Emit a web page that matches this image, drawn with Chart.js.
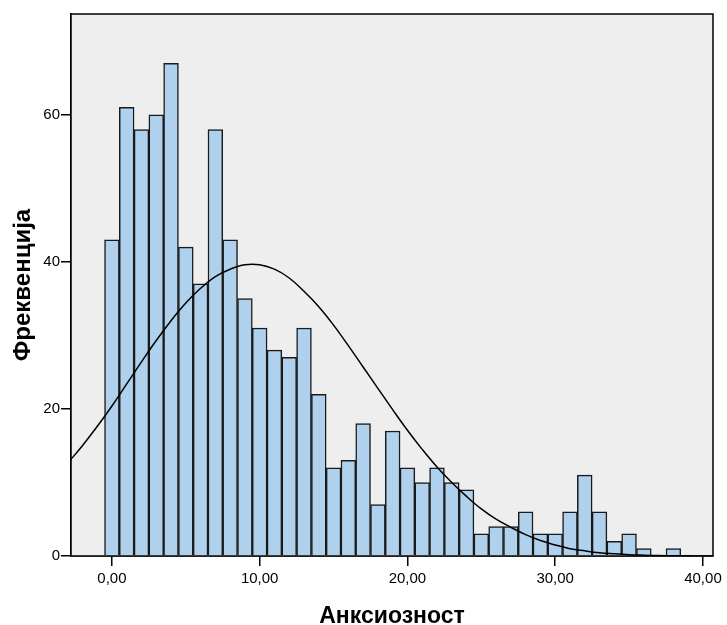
<!DOCTYPE html>
<html>
<head>
<meta charset="utf-8">
<script src="https://cdn.jsdelivr.net/npm/chart.js@4.4.1/dist/chart.umd.min.js"></script>
<style>
  body { margin: 0; background: #fff; }
</style>
</head>
<body>
<canvas id="hist" width="727" height="625"></canvas>
<script>
// histogram bins (centres) and counts
const binCenters = [0,1,2,3,4,5,6,7,8,9,10,11,12,13,14,15,16,17,18,19,20,21,22,23,24,25,26,27,28,29,30,31,32,33,34,35,36,37,38];
const frequencies = [43,61,58,60,67,42,37,58,43,35,31,28,27,31,22,12,13,18,7,17,12,10,12,10,9,3,4,4,6,3,3,6,11,6,2,3,1,0,1];

// normal curve
const curveX = [-3,-2,-1,0,1,2,3,4,5,6,7,8,9,10,11,12,13,14,15,16,17,18,19,20,21,22,23,24,25,26,27,28,29,30,31,32,33,34,35,36,37,38,39,40,41];
const curveY = [12.6,15.0,17.6,20.4,23.4,26.4,29.3,32.0,34.4,36.4,38.0,39.0,39.6,39.6,39.0,37.8,36.0,33.9,31.4,28.6,25.7,22.8,19.9,17.1,14.5,12.1,10.0,8.1,6.4,5.0,3.9,2.9,2.1,1.5,1.0,0.7,0.45,0.3,0.18,0.11,0.06,0.04,0.02,0.01,0.01];

const xTicks = [0, 10, 20, 30, 40];
const yTicks = [0, 20, 40, 60];

const plotBox = {
  id: 'plotBox',
  beforeDatasetsDraw(chart) {
    const { ctx, chartArea: a } = chart;
    ctx.save();
    ctx.fillStyle = '#eeeeee';
    ctx.fillRect(a.left, a.top, a.right - a.left, a.bottom - a.top);
    ctx.restore();
  },
  afterDraw(chart) {
    const { ctx, chartArea: a } = chart;
    ctx.save();
    ctx.strokeStyle = '#000';
    ctx.lineWidth = 1.5;
    ctx.strokeRect(a.left, a.top, a.right - a.left, a.bottom - a.top);
    ctx.restore();
  }
};

const fmt = v => v.toFixed(2).replace('.', ',');

new Chart(document.getElementById('hist'), {
  type: 'bar',
  data: {
    datasets: [
      {
        type: 'line',
        data: curveX.map((x, i) => ({ x: x, y: curveY[i] })),
        borderColor: '#000',
        borderWidth: 1.5,
        pointRadius: 0,
        tension: 0.4,
        fill: false,
        order: 0
      },
      {
        data: binCenters.map((x, i) => ({ x: x, y: frequencies[i] })),
        backgroundColor: '#afd1ee',
        borderColor: '#1a1a1a',
        borderWidth: 1.5,
        barPercentage: 1,
        categoryPercentage: 1,
        order: 1
      }
    ]
  },
  options: {
    responsive: false,
    animation: false,
    layout: { padding: { top: 14, right: 14, left: 0, bottom: 0 } },
    plugins: { legend: { display: false }, tooltip: { enabled: false } },
    scales: {
      x: {
        type: 'linear',
        min: -2.77,
        max: 40.68,
        offset: false,
        afterBuildTicks: s => { s.ticks = xTicks.map(v => ({ value: v })); },
        afterFit: s => { s.height = 69; },
        ticks: {
          callback: v => fmt(v),
          color: '#000',
          font: { family: 'Liberation Sans', size: 15 },
          padding: 4,
          maxRotation: 0
        },
        grid: { offset: false, drawOnChartArea: false, drawTicks: true, tickLength: 10, color: '#000', lineWidth: 1.5 },
        border: { display: true, color: '#000', width: 1.5 },
        title: {
          display: true,
          text: 'Анксиозност',
          color: '#000',
          font: { family: 'Liberation Sans', size: 23, weight: 'bold' },
          padding: { top: 7, bottom: -5 }
        }
      },
      y: {
        min: 0,
        max: 73.7,
        afterBuildTicks: s => { s.ticks = yTicks.map(v => ({ value: v })); },
        afterFit: s => { s.width = 71; },
        ticks: {
          color: '#000',
          font: { family: 'Liberation Sans', size: 15 },
          padding: 1
        },
        grid: { offset: false, drawOnChartArea: false, drawTicks: true, tickLength: 10, color: '#000', lineWidth: 1.5 },
        border: { display: true, color: '#000', width: 1.5 },
        title: {
          display: true,
          text: 'Фреквенција',
          color: '#000',
          font: { family: 'Liberation Sans', size: 24, weight: 'bold' },
          padding: { top: 9, bottom: 0 }
        }
      }
    }
  },
  plugins: [plotBox]
});
</script>
</body>
</html>
